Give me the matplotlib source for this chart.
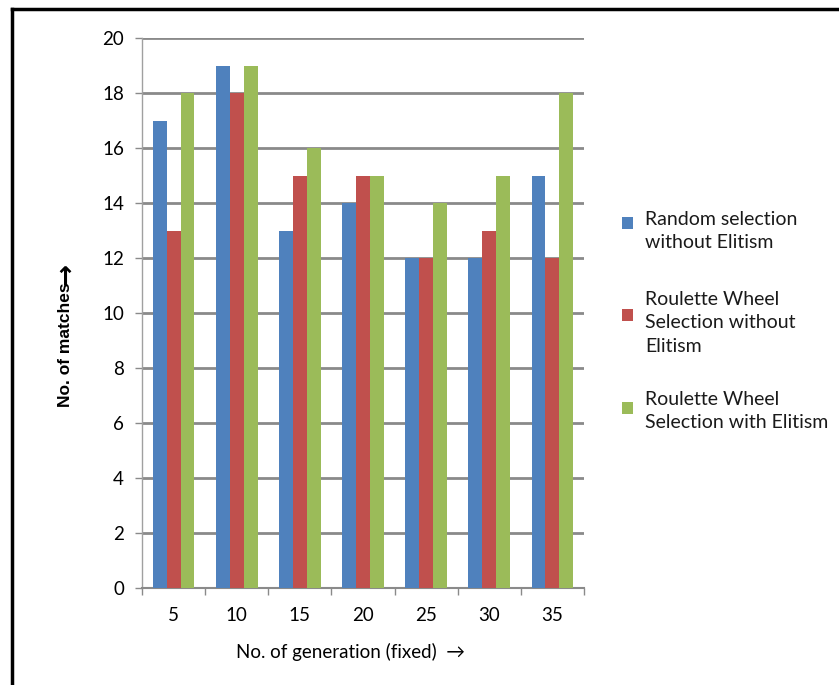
import matplotlib
matplotlib.use("Agg")
import matplotlib.pyplot as plt
import numpy as np
from matplotlib.lines import Line2D
from matplotlib.patches import Rectangle

categories = ["5", "10", "15", "20", "25", "30", "35"]
random_no_elitism = [17, 19, 13, 14, 12, 12, 15]
roulette_no_elitism = [13, 18, 15, 15, 12, 13, 12]
roulette_elitism = [18, 19, 16, 15, 14, 15, 18]
series_labels = ["Random selection\nwithout Elitism",
                 "Roulette Wheel\nSelection without\nElitism",
                 "Roulette Wheel\nSelection with Elitism"]
colors = ["#4F81BD", "#C0504D", "#9BBB59"]
y_ticks = list(range(0, 21, 2))

W, H = 839, 685
fig = plt.figure(figsize=(W / 100, H / 100), dpi=100)
ax = fig.add_axes([142 / W, (H - 588) / H, 442 / W, 550 / H])

x = np.arange(len(categories))
bw = 0.22
for i, (vals, c) in enumerate(zip([random_no_elitism, roulette_no_elitism, roulette_elitism], colors)):
    ax.bar(x + (i - 1) * bw, vals, width=bw, color=c, zorder=3, label=series_labels[i])

ax.set_xlim(-0.5, len(categories) - 0.5)
ax.set_ylim(0, 20)
ax.set_yticks(y_ticks)
ax.set_yticklabels([str(t) for t in y_ticks], fontsize=13.5, family="Lato")
ax.yaxis.grid(True, color="#8a8a8a", linewidth=2, zorder=0)
ax.tick_params(axis="y", length=5, color="#8a8a8a", width=1, pad=8)

ax.set_xticks(x)
ax.set_xticklabels(categories, fontsize=13.5, family="Lato")
ax.set_xticks(np.arange(-0.5, len(categories)), minor=True)
ax.tick_params(axis="x", which="major", length=0, pad=14)
ax.tick_params(axis="x", which="minor", length=5, color="#8a8a8a", width=1)

for s in ["top", "right"]:
    ax.spines[s].set_visible(False)
ax.spines["left"].set_color("#a0a0a0")
ax.spines["bottom"].set_color("#8a8a8a")
ax.spines["left"].set_linewidth(1)
ax.spines["bottom"].set_linewidth(1.5)

# y label: words + a full-size arrow
fig.text(65 / W, 1 - 345 / H, "No. of matches", rotation=90, ha="center", va="center",
         fontsize=12.5, fontweight="bold", family="Liberation Sans")
fig.text(66 / W, 1 - 274 / H, "\u2192", rotation=90, ha="center", va="center",
         fontsize=19, fontweight="bold", family="DejaVu Sans")
fig.text(350 / W, 1 - 652 / H, "No. of generation (fixed)  \u2192", ha="center", va="center",
         fontsize=13.5, family=["Lato", "DejaVu Sans"])

# legend drawn as patches + text
legend_text_top = [211, 291, 391]
legend_square_center = [223, 315, 408]
for lbl, c, ty, sy in zip(series_labels, colors, legend_text_top, legend_square_center):
    fig.add_artist(Rectangle((622 / W, 1 - (sy + 6) / H), 11 / W, 12 / H, facecolor=c,
                             edgecolor="none", transform=fig.transFigure))
    fig.text(645 / W, 1 - ty / H, lbl, ha="left", va="top", fontsize=14,
             family="Lato", linespacing=1.45, color="#1a1a1a")

# outer frame
fig.add_artist(Line2D([12 / W, 12 / W], [0, 1 - 9 / H], color="black", linewidth=2.5, transform=fig.transFigure))
fig.add_artist(Line2D([12 / W, 1], [1 - 9 / H, 1 - 9 / H], color="black", linewidth=2.5, transform=fig.transFigure))

fig.savefig("out.png", dpi=100)
